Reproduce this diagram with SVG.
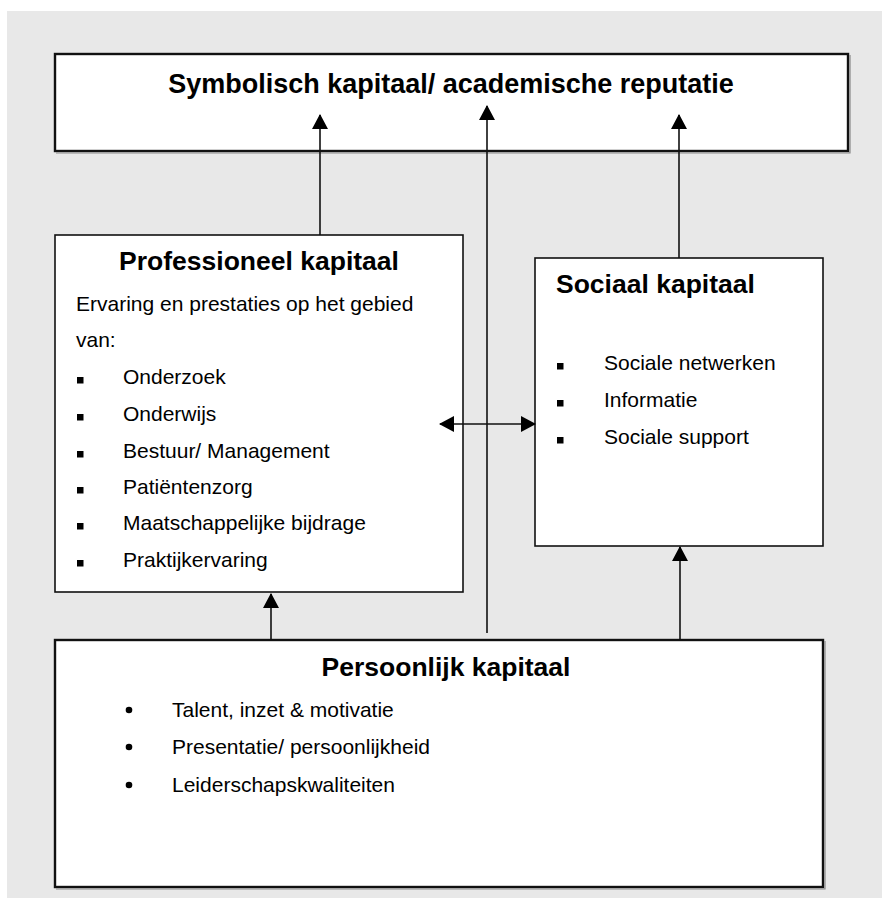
<svg xmlns="http://www.w3.org/2000/svg" width="882" height="898" viewBox="0 0 882 898">
<defs>
<style>
.box{fill:#fff;stroke:#111;stroke-width:1.6}
.thick{fill:#fff;stroke:#111;stroke-width:2.4}
.shadow{fill:none;stroke:#888;stroke-width:1.2}
.h{font-family:"Liberation Sans",Arial,sans-serif;font-weight:bold;font-size:26.5px;fill:#000}
.title{font-size:27px}
.t{font-family:"Liberation Sans",Arial,sans-serif;font-size:21px;fill:#000}
.c{fill:none;stroke:#111;stroke-width:1.6}
.sq{fill:#000}
</style>
<marker id="ah" markerUnits="userSpaceOnUse" markerWidth="16" markerHeight="18" refX="14" refY="8" orient="auto-start-reverse" viewBox="0 0 16 16">
<path d="M0,0 L15,8 L0,16 Z" fill="#000"/>
</marker>
</defs>
<rect x="7" y="11" width="875" height="887" fill="#e8e8e8"/>

<g id="symbolisch">
<rect class="thick" x="55" y="54" width="793" height="97"/>
<path class="shadow" d="M850,55 V153 H56"/>
<text class="h title" x="451" y="93" text-anchor="middle">Symbolisch kapitaal/ academische reputatie</text>
</g>

<g id="professioneel">
<rect class="box" x="55" y="235" width="408" height="357"/>
<text class="h" x="259" y="270" text-anchor="middle">Professioneel kapitaal</text>
<text class="t" x="76" y="311">Ervaring en prestaties op het gebied</text>
<text class="t" x="76" y="347">van:</text>
<rect class="sq" x="77" y="377" width="6.5" height="6.5"/>
<text class="t" x="123" y="384">Onderzoek</text>
<rect class="sq" x="77" y="414" width="6.5" height="6.5"/>
<text class="t" x="123" y="421">Onderwijs</text>
<rect class="sq" x="77" y="451" width="6.5" height="6.5"/>
<text class="t" x="123" y="458">Bestuur/ Management</text>
<rect class="sq" x="77" y="487" width="6.5" height="6.5"/>
<text class="t" x="123" y="494">Patiëntenzorg</text>
<rect class="sq" x="77" y="523" width="6.5" height="6.5"/>
<text class="t" x="123" y="530">Maatschappelijke bijdrage</text>
<rect class="sq" x="77" y="560" width="6.5" height="6.5"/>
<text class="t" x="123" y="567">Praktijkervaring</text>
</g>

<g id="sociaal">
<rect class="box" x="535" y="258" width="288" height="288"/>
<text class="h" x="556" y="293">Sociaal kapitaal</text>
<rect class="sq" x="557" y="363" width="6.5" height="6.5"/>
<text class="t" x="604" y="370">Sociale netwerken</text>
<rect class="sq" x="557" y="400" width="6.5" height="6.5"/>
<text class="t" x="604" y="407">Informatie</text>
<rect class="sq" x="557" y="437" width="6.5" height="6.5"/>
<text class="t" x="604" y="444">Sociale support</text>
</g>

<g id="persoonlijk">
<rect class="thick" x="55" y="640" width="768" height="247"/>
<path class="shadow" d="M825,641 V889 H56"/>
<text class="h" x="446" y="676" text-anchor="middle">Persoonlijk kapitaal</text>
<circle cx="129" cy="710" r="3.3" fill="#000"/>
<text class="t" x="172" y="717">Talent, inzet &amp; motivatie</text>
<circle cx="129" cy="747" r="3.3" fill="#000"/>
<text class="t" x="172" y="754">Presentatie/ persoonlijkheid</text>
<circle cx="129" cy="785" r="3.3" fill="#000"/>
<text class="t" x="172" y="792">Leiderschapskwaliteiten</text>
</g>

<g id="connectors">
<line class="c" x1="320" y1="235" x2="320" y2="115" marker-end="url(#ah)"/>
<line class="c" x1="487" y1="633" x2="487" y2="106" marker-end="url(#ah)"/>
<line class="c" x1="679" y1="258" x2="679" y2="115" marker-end="url(#ah)"/>
<line class="c" x1="271" y1="640" x2="271" y2="594" marker-end="url(#ah)"/>
<line class="c" x1="680" y1="640" x2="680" y2="547" marker-end="url(#ah)"/>
<line class="c" x1="440" y1="424" x2="535" y2="424" marker-start="url(#ah)" marker-end="url(#ah)"/>
</g>
</svg>
